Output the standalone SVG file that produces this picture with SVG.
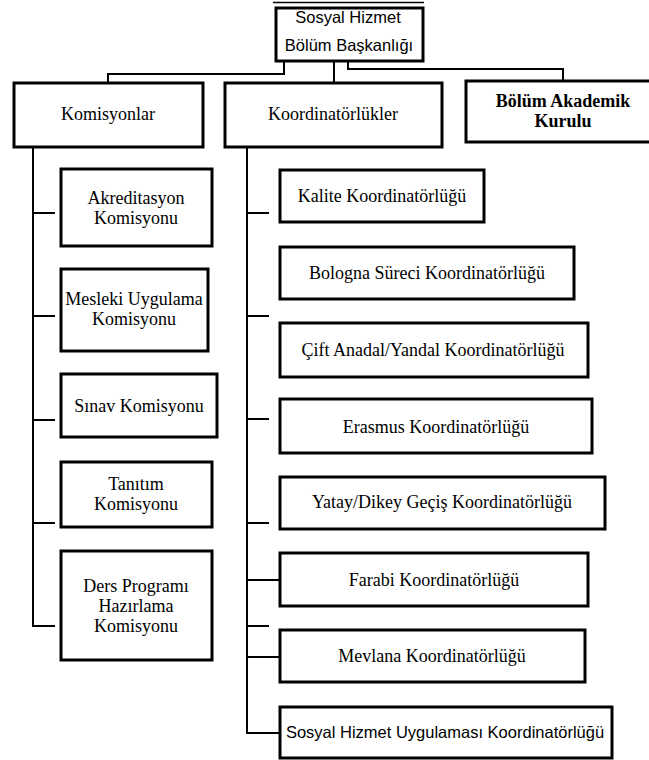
<svg xmlns="http://www.w3.org/2000/svg" width="649" height="760" viewBox="0 0 649 760">
<style>
  .box { fill: #ffffff; stroke: #000000; stroke-width: 3; }
  .conn { fill: none; stroke: #000000; stroke-width: 2; }
  .serif { font-family: "Liberation Serif", "Times New Roman", serif; font-size: 18px; fill: #000; text-anchor: middle; }
  .bold { font-weight: bold; }
  .sans { font-family: "Liberation Sans", Arial, sans-serif; font-size: 16.5px; fill: #000; text-anchor: middle; }
</style>
<rect x="0" y="0" width="649" height="760" fill="#ffffff"/>
<g id="connectors">
  <line x1="273" y1="2.5" x2="424" y2="2.5" stroke="#000" stroke-width="1.5"/>
  <path class="conn" d="M284,61 V74 H108 V82"/>
  <path class="conn" d="M334,61 V82"/>
  <path class="conn" d="M348,61 V69 H563 V80"/>
  <path class="conn" d="M33,147 V626 H55"/>
  <path class="conn" d="M33,213 H55 M33,316 H55 M33,420 H55 M33,523 H55"/>
  <path class="conn" d="M247,147 V733 H279"/>
  <path class="conn" d="M247,213 H269 M247,316 H269 M247,419 H269 M247,523 H269 M247,626 H269"/>
  <path class="conn" d="M247,580 H279 M247,657 H279"/>
</g>
<g id="n-baskan">
  <rect class="box" x="276" y="8" width="147" height="53"/>
  <text class="sans" x="348" y="23">Sosyal Hizmet</text>
  <text class="sans" x="349" y="51">Bölüm Başkanlığı</text>
</g>
<g id="n-komisyonlar">
  <rect class="box" x="14" y="83" width="189" height="64"/>
  <text class="serif" x="108" y="120">Komisyonlar</text>
</g>
<g id="n-koordinatorlukler">
  <rect class="box" x="225" y="83" width="217" height="64"/>
  <text class="serif" x="333" y="120">Koordinatörlükler</text>
</g>
<g id="n-akademik">
  <rect class="box" x="466" y="81" width="196" height="61"/>
  <text class="serif bold" x="563" y="107">Bölüm Akademik</text>
  <text class="serif bold" x="563" y="127">Kurulu</text>
</g>
<g id="n-akreditasyon">
  <rect class="box" x="61" y="169" width="151" height="77"/>
  <text class="serif" x="136" y="204">Akreditasyon</text>
  <text class="serif" x="136" y="224">Komisyonu</text>
</g>
<g id="n-mesleki">
  <rect class="box" x="61" y="269" width="147" height="82"/>
  <text class="serif" x="134" y="305">Mesleki Uygulama</text>
  <text class="serif" x="134" y="325">Komisyonu</text>
</g>
<g id="n-sinav">
  <rect class="box" x="61" y="374" width="156" height="63"/>
  <text class="serif" x="139" y="412">Sınav Komisyonu</text>
</g>
<g id="n-tanitim">
  <rect class="box" x="61" y="462" width="151" height="65"/>
  <text class="serif" x="136" y="490">Tanıtım</text>
  <text class="serif" x="136" y="510">Komisyonu</text>
</g>
<g id="n-ders">
  <rect class="box" x="61" y="551" width="151" height="109"/>
  <text class="serif" x="136" y="592">Ders Programı</text>
  <text class="serif" x="136" y="612">Hazırlama</text>
  <text class="serif" x="136" y="632">Komisyonu</text>
</g>
<g id="n-kalite">
  <rect class="box" x="280" y="170" width="204" height="52"/>
  <text class="serif" x="382" y="202">Kalite Koordinatörlüğü</text>
</g>
<g id="n-bologna">
  <rect class="box" x="280" y="247" width="294" height="52"/>
  <text class="serif" x="427" y="279">Bologna Süreci Koordinatörlüğü</text>
</g>
<g id="n-cift">
  <rect class="box" x="280" y="323" width="308" height="54"/>
  <text class="serif" x="433" y="356">Çift Anadal/Yandal Koordinatörlüğü</text>
</g>
<g id="n-erasmus">
  <rect class="box" x="280" y="399" width="312" height="54"/>
  <text class="serif" x="436" y="433">Erasmus Koordinatörlüğü</text>
</g>
<g id="n-yatay">
  <rect class="box" x="280" y="477" width="325" height="52"/>
  <text class="serif" x="442" y="508">Yatay/Dikey Geçiş Koordinatörlüğü</text>
</g>
<g id="n-farabi">
  <rect class="box" x="280" y="553" width="308" height="53"/>
  <text class="serif" x="434" y="586">Farabi Koordinatörlüğü</text>
</g>
<g id="n-mevlana">
  <rect class="box" x="280" y="630" width="305" height="52"/>
  <text class="serif" x="432" y="662">Mevlana Koordinatörlüğü</text>
</g>
<g id="n-shu">
  <rect class="box" x="280" y="707" width="332" height="51"/>
  <text class="sans" x="445" y="738">Sosyal Hizmet Uygulaması Koordinatörlüğü</text>
</g>
</svg>
